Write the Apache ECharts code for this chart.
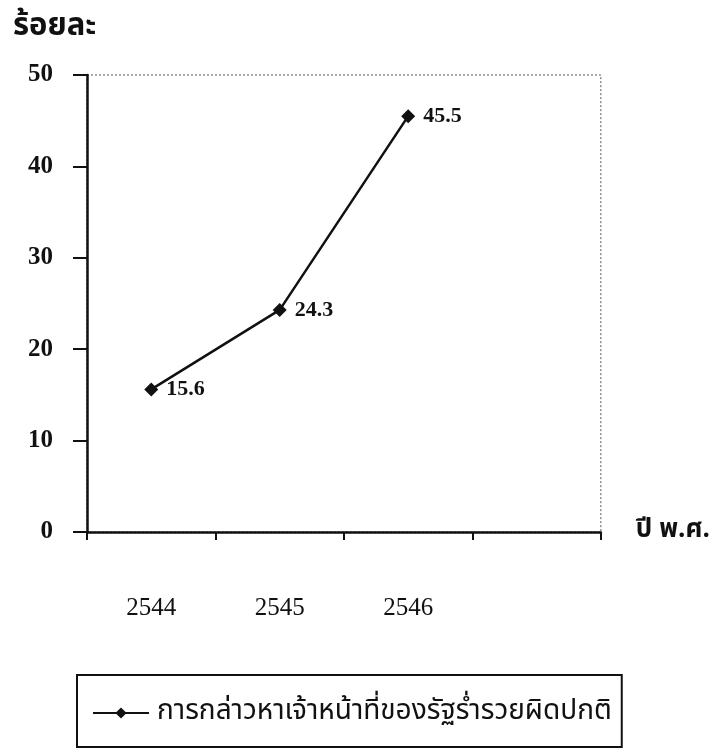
<!DOCTYPE html>
<html>
<head>
<meta charset="utf-8">
<script src="https://cdn.jsdelivr.net/npm/echarts@6/dist/echarts.min.js"></script>
<style>
  html, body { margin: 0; padding: 0; background: #ffffff; }
  #chart { width: 713px; height: 749px; }
</style>
</head>
<body>
<div id="chart"></div>
<script>
// Years (Buddhist era) on the category axis
const years = ['2544', '2545', '2546'];
// Share of reports, percent
const values = [15.6, 24.3, 45.5];
// Y axis range
const yMin = 0, yMax = 50, yStep = 10;
const seriesName = 'การกล่าวหาเจ้าหน้าที่ของรัฐร่ำรวยผิดปกติ';
const yTitle = 'ร้อยละ';
const xTitle = 'ปี พ.ศ.';

const serif = '"Liberation Serif", "DejaVu Serif", serif';
const thai = '"Noto Sans Thai", "Noto Sans", "DejaVu Sans", sans-serif';

const chart = echarts.init(document.getElementById('chart'), null, { renderer: 'canvas' });
chart.setOption({
  backgroundColor: '#ffffff',
  animation: false,
  title: {
    text: yTitle,
    left: 8,
    top: 8,
    textStyle: { fontFamily: thai, fontSize: 31, fontWeight: 'bold', color: '#111' }
  },
  grid: {
    left: 87, right: 110, top: 75, bottom: 217,
    show: true,
    borderColor: '#555',
    borderWidth: 1,
    borderType: [2, 2]
  },
  legend: {
    left: 77,
    top: 675,
    padding: [24, 10, 20, 15],
    borderColor: '#111',
    borderWidth: 2,
    itemWidth: 56,
    itemHeight: 14,
    itemGap: 0,
    data: [seriesName],
    textStyle: { fontFamily: thai, fontSize: 28, color: '#111', padding: [0, 0, 0, 3] }
  },
  xAxis: {
    type: 'category',
    data: years.concat(['']),
    boundaryGap: true,
    name: xTitle,
    nameLocation: 'end',
    nameGap: 35,
    nameTextStyle: { fontFamily: thai, fontSize: 26, fontWeight: 'bold', color: '#111' },
    axisLine: { show: true, lineStyle: { color: '#111', width: 2.5 } },
    axisTick: { show: true, length: 8, lineStyle: { color: '#111', width: 2 } },
    axisLabel: { margin: 64, fontFamily: serif, fontSize: 25, color: '#111' },
    splitLine: { show: false }
  },
  yAxis: {
    type: 'value',
    min: yMin, max: yMax, interval: yStep,
    axisLine: { show: true, lineStyle: { color: '#111', width: 2.5 } },
    axisTick: { show: true, length: 14, lineStyle: { color: '#111', width: 2 } },
    axisLabel: { margin: 34, fontFamily: serif, fontSize: 25, fontWeight: 'bold', color: '#111' },
    splitLine: { show: false }
  },
  series: [{
    name: seriesName,
    type: 'line',
    data: values,
    symbol: 'diamond',
    symbolSize: 14,
    lineStyle: { color: '#111', width: 2.5 },
    itemStyle: { color: '#111' },
    label: {
      show: true,
      position: 'right',
      distance: 8,
      fontFamily: serif,
      fontSize: 22,
      fontWeight: 'bold',
      color: '#111'
    }
  }]
});
</script>
</body>
</html>
